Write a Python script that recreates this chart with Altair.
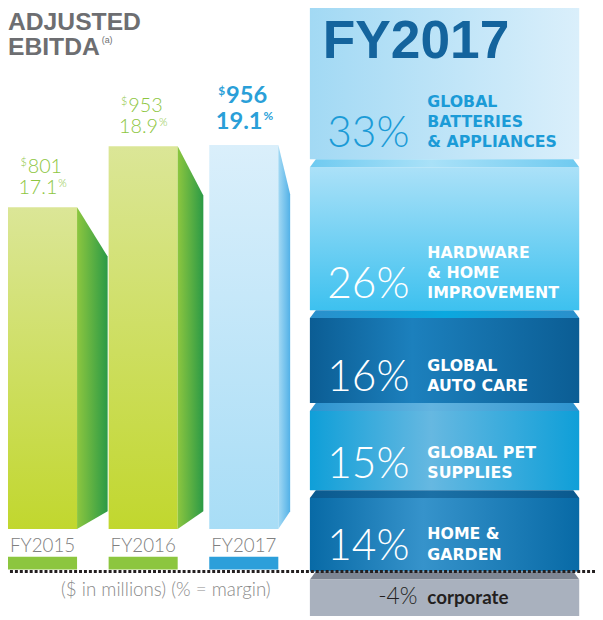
import altair as alt
import pandas as pd

# ---------------- data ----------------
years = ["FY2015", "FY2016", "FY2017"]
ebitda_musd = [801, 953, 956]
margin_pct = [17.1, 18.9, 19.1]

segment_lines = [
    ["GLOBAL", "BATTERIES", "& APPLIANCES"],
    ["HARDWARE", "& HOME", "IMPROVEMENT"],
    ["GLOBAL", "AUTO CARE"],
    ["GLOBAL PET", "SUPPLIES"],
    ["HOME &", "GARDEN"],
]
segment_share = [33, 26, 16, 15, 14]
corporate_share = -4
corporate_label = "corporate"

title_lines = ["ADJUSTED", "EBITDA"]
title_note = "(a)"
panel_title = "FY2017"
footnote = "($ in millions) (% = margin)"

# ---------------- layout / style ----------------
W, H = 595, 612
SLOT = 102.0          # px between bar starts
BAR_W = 70.0          # px bar front width
L_BASE = 524.0        # px baseline of bars
PX_PER_M = 0.4073     # px per $M
side_depth = [31, 26, 12]
SIDE_DROP = 50
SIDE_RISE = 18

R_X0, R_X1 = 306, 579
R_BASE = 567.0
PX_PER_PCT = 5.885
FACE = 8
INSET = 6
LINE_H = 20.5

GREEN = "#8dc63f"
BLUE = "#2a9fd8"
LIGHT_FONT = "Lato"
TITLE_FONT = "Liberation Sans"
LABEL_FONT = "DejaVu Sans"


def lin(c0, c1, horizontal=False):
    return {"gradient": "linear", "x1": 0, "y1": 0,
            "x2": 1 if horizontal else 0, "y2": 0 if horizontal else 1,
            "stops": [{"offset": 0, "color": c0}, {"offset": 1, "color": c1}]}


def glow(edge, center, pos=0.42):
    return {"gradient": "linear", "x1": 0, "y1": 0, "x2": 1, "y2": 0,
            "stops": [{"offset": 0, "color": edge},
                      {"offset": pos, "color": center},
                      {"offset": 1, "color": edge}]}


LX = alt.Scale(domain=[0, 1], range=[0, SLOT], nice=False, zero=False)
LY = alt.Scale(domain=[0, 1000], range=[L_BASE, L_BASE - 1000 * PX_PER_M], nice=False, zero=False)
total = sum(segment_share)
RX = alt.Scale(domain=[0, 1], range=[R_X0, R_X1], nice=False, zero=False)
RY = alt.Scale(domain=[0, total], range=[R_BASE - total * PX_PER_PCT, R_BASE], nice=False, zero=False)


def lx(f):
    return alt.X(f, type="quantitative", scale=LX, axis=None)


def ly(f):
    return alt.Y(f, type="quantitative", scale=LY, axis=None)


def rx(f):
    return alt.X(f, type="quantitative", scale=RX, axis=None)


def ry(f):
    return alt.Y(f, type="quantitative", scale=RY, axis=None)


# ---------------- left: bars ----------------
bars = pd.DataFrame({"year": years, "value": ebitda_musd, "margin": margin_pct})
bars["i"] = range(len(years))
bars["xl"] = bars["i"]
bars["xr"] = bars["i"] + BAR_W / SLOT
bars["xc"] = bars["i"] + BAR_W / SLOT / 2
bars["zero"] = 0
bars["num"] = bars["value"].astype(str)
bars["pct"] = bars["margin"].map(lambda v: f"{v:.1f}")

side_rows = []
for i, (yr, v) in enumerate(zip(years, ebitda_musd)):
    side_rows.append(dict(year=yr, i=i, xs=i + BAR_W / SLOT, top=v, bot=0))
    side_rows.append(dict(year=yr, i=i, xs=i + (BAR_W + side_depth[i]) / SLOT,
                          top=v - SIDE_DROP / PX_PER_M, bot=SIDE_RISE / PX_PER_M))
side = pd.DataFrame(side_rows)

layers = []
base_b = alt.Chart(bars)
for cond, grad in [("datum.i < 2", lin("#dbe697", "#c1d72e")),
                   ("datum.i == 2", lin("#daeffb", "#a8ddf6"))]:
    layers.append(base_b.transform_filter(cond).mark_rect(fill=grad).encode(
        x=lx("xl"), x2="xr:Q", y=ly("value"), y2="zero:Q"))

base_s = alt.Chart(side)
for cond, grad in [("datum.i < 2", lin("#8cc63f", "#2b9a46", True)),
                   ("datum.i == 2", lin("#a3d9f4", "#52b1e7", True))]:
    layers.append(base_s.transform_filter(cond).mark_area(fill=grad, opacity=1).encode(
        x=lx("xs"), y=ly("top"), y2="bot:Q", detail="year:N"))


def txt(**kw):
    d = dict(baseline="alphabetic", font=LIGHT_FONT)
    d.update(kw)
    return d


# value labels
g = base_b.transform_filter("datum.i < 2")
layers += [
    g.mark_text(**txt(align="left", dx=-15, dy=-35, fontSize=20, fontWeight=300, color=GREEN)).encode(
        x=lx("xc"), y=ly("value"), text="num:N"),
    g.mark_text(**txt(align="right", dx=-16, dy=-42, fontSize=11, fontWeight=300, color=GREEN)).encode(
        x=lx("xc"), y=ly("value"), text=alt.value("$")),
    g.mark_text(**txt(align="right", dx=15, dy=-13, fontSize=20, fontWeight=300, color=GREEN)).encode(
        x=lx("xc"), y=ly("value"), text="pct:N"),
    g.mark_text(**txt(align="left", dx=16, dy=-20, fontSize=11, fontWeight=300, color=GREEN)).encode(
        x=lx("xc"), y=ly("value"), text=alt.value("%")),
]
b = base_b.transform_filter("datum.i == 2")
layers += [
    b.mark_text(**txt(align="left", dx=-18, dy=-43, fontSize=24, fontWeight="bold", color=BLUE)).encode(
        x=lx("xc"), y=ly("value"), text="num:N"),
    b.mark_text(**txt(align="right", dx=-19, dy=-51, fontSize=12, fontWeight="bold", color=BLUE)).encode(
        x=lx("xc"), y=ly("value"), text=alt.value("$")),
    b.mark_text(**txt(align="right", dx=19, dy=-16, fontSize=24, fontWeight="bold", color=BLUE)).encode(
        x=lx("xc"), y=ly("value"), text="pct:N"),
    b.mark_text(**txt(align="left", dx=20, dy=-25, fontSize=12, fontWeight="bold", color=BLUE)).encode(
        x=lx("xc"), y=ly("value"), text=alt.value("%")),
]

# year labels + strips
layers.append(base_b.mark_text(**txt(align="center", fontSize=19, fontWeight=300, color="#808080")).encode(
    x=lx("xc"), y=alt.value(547), text="year:N"))
for cond, col in [("datum.i < 2", "#8cc63f"), ("datum.i == 2", "#2c9fda")]:
    layers.append(base_b.transform_filter(cond).mark_rect(color=col).encode(
        x=lx("xl"), x2="xr:Q", y=alt.value(552), y2=alt.value(565)))

# titles / footnote
tdf = pd.DataFrame({"t": title_lines, "k": range(len(title_lines))})
layers.append(alt.Chart(tdf).transform_filter("datum.k == 0").mark_text(
    **txt(align="left", font=TITLE_FONT, fontSize=25, fontWeight="bold", color="#6d6e71")).encode(
    x=alt.value(0), y=alt.value(18), text="t:N"))
layers.append(alt.Chart(tdf).transform_filter("datum.k == 1").mark_text(
    **txt(align="left", font=TITLE_FONT, fontSize=25, fontWeight="bold", color="#6d6e71")).encode(
    x=alt.value(0), y=alt.value(43), text="t:N"))
layers.append(alt.Chart(pd.DataFrame({"t": [title_note]})).mark_text(
    **txt(align="left", font=TITLE_FONT, fontSize=9, color="#6d6e71")).encode(
    x=alt.value(95), y=alt.value(31), text="t:N"))
layers.append(alt.Chart(pd.DataFrame({"t": [footnote]})).mark_text(
    **txt(align="center", fontSize=19, fontWeight=300, color="#8a8a8a")).encode(
    x=alt.value(160), y=alt.value(592), text="t:N"))

# ---------------- right: segment stack ----------------
D = FACE / PX_PER_PCT
cum = [0]
for s in segment_share:
    cum.append(cum[-1] + s)
blocks = pd.DataFrame({"i": range(len(segment_share)), "share": segment_share,
                       "s": cum[:-1], "e": cum[1:]})
blocks["top"] = [s + (D if k > 0 else 0) for k, s in enumerate(blocks["s"])]
blocks["f0"] = 0
blocks["f1"] = 1
blocks["txt"] = [f"{v}%" for v in segment_share]
blocks["ty"] = blocks["e"] - 12 / PX_PER_PCT

block_fill = [
    lin("#a2d9f4", "#daeffb", True),
    lin("#abe1f8", "#3dc1ef"),
    glow("#0b5d94", "#1c80bd", 0.38),
    glow("#0f9fd8", "#66b8e1", 0.45),
    glow("#086aa6", "#3693cb", 0.42),
]
face_fill = [
    None,
    glow("#6fcaf0", "#a9e1f8", 0.45),
    glow("#2b8fcb", "#0aa8df", 0.5),
    glow("#2c93cf", "#63b4e0", 0.45),
    glow("#0a598e", "#1b70a6", 0.45),
]

bb = alt.Chart(blocks)
for k in range(len(segment_share)):
    layers.append(bb.transform_filter(f"datum.i == {k}").mark_rect(fill=block_fill[k]).encode(
        x=rx("f0"), x2="f1:Q", y=ry("top"), y2="e:Q"))

ins = INSET / (R_X1 - R_X0)
face_rows = []
for k, b0 in enumerate(cum[1:]):
    for fx, t in [(0, b0 + D), (ins, b0), (1 - ins, b0), (1, b0 + D)]:
        face_rows.append(dict(k=k + 1, fx=fx, top=t, bot=b0 + D))
faces = pd.DataFrame(face_rows)
fb = alt.Chart(faces)
for k in range(1, len(segment_share)):
    layers.append(fb.transform_filter(f"datum.k == {k}").mark_area(fill=face_fill[k], opacity=1).encode(
        x=rx("fx"), y=ry("top"), y2="bot:Q"))
layers.append(fb.transform_filter(f"datum.k == {len(segment_share)}").mark_area(
    fill="#7e8693", opacity=1).encode(x=rx("fx"), y=ry("top"), y2="bot:Q"))

corp = pd.DataFrame({"y": [total + D], "f0": [0], "f1": [1], "b": [total],
                     "t": [f"{corporate_share}%"], "c": [corporate_label]})
cb = alt.Chart(corp)
layers.append(cb.mark_rect(fill="#a9b1be").encode(x=rx("f0"), x2="f1:Q", y=ry("y"), y2=alt.value(H)))

txt_color = alt.when(alt.datum.i == 0).then(alt.value("#1b9bd7")).otherwise(alt.value("#ffffff"))
layers.append(bb.mark_text(**txt(align="right", fontSize=43, fontWeight=300)).encode(
    x=alt.value(407), y=ry("ty"), text="txt:N", color=txt_color))

lrows = []
for k, lines in enumerate(segment_lines):
    n = len(lines)
    for j, ln in enumerate(lines):
        lrows.append(dict(i=k, t=ln, y=cum[k + 1] - (12 + (n - 1 - j) * LINE_H) / PX_PER_PCT))
lab = pd.DataFrame(lrows)
layers.append(alt.Chart(lab).mark_text(**txt(align="left", font=LABEL_FONT, fontSize=16, fontWeight="bold")).encode(
    x=alt.value(425), y=ry("y"), text="t:N", color=txt_color))

layers.append(alt.Chart(pd.DataFrame({"t": [panel_title]})).mark_text(
    **txt(align="left", font=TITLE_FONT, fontSize=54, fontWeight="bold", color="#14649d")).encode(
    x=alt.value(319), y=alt.value(47), text="t:N"))

layers.append(cb.mark_text(**txt(align="right", dy=33, fontSize=23, fontWeight=300, color="#231f20")).encode(
    x=alt.value(415), y=ry("b"), text="t:N"))
layers.append(cb.mark_text(**txt(align="left", dy=33, fontSize=19, fontWeight="bold", color="#231f20")).encode(
    x=alt.value(425), y=ry("b"), text="c:N"))

# dotted baseline
layers.append(cb.mark_rule(color="#231f20", strokeWidth=3, strokeDash=[3, 2]).encode(y=ry("b")))

chart = alt.layer(*layers).resolve_scale(x="independent", y="independent").properties(
    width=W, height=H, padding=0, autosize=alt.AutoSizeParams(type="none")
).configure_view(stroke=None)

chart.save("out.html", embed_options={"renderer": "svg", "actions": False})
